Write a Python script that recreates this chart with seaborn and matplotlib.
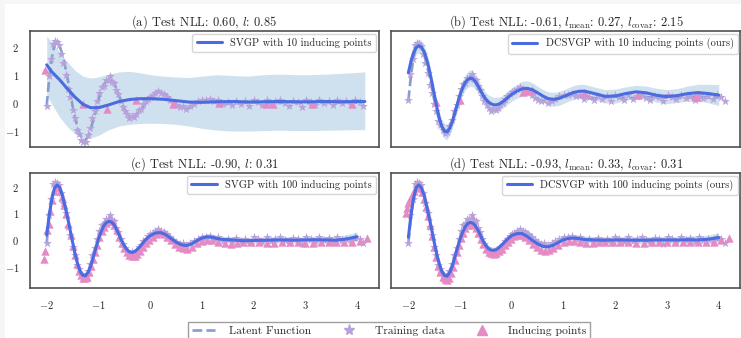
import numpy as np
import matplotlib
matplotlib.use("Agg")
import matplotlib.pyplot as plt
from matplotlib.lines import Line2D
from matplotlib.patches import Rectangle
import seaborn as sns

sns.set_style("white")
plt.rcParams["font.family"] = ["cmr10"]
plt.rcParams["mathtext.fontset"] = "cm"
plt.rcParams["axes.formatter.use_mathtext"] = True

# ---- data ----
latent_x = [-2.0, -1.95, -1.9, -1.85, -1.8, -1.75, -1.7, -1.65, -1.6, -1.55,
            -1.5, -1.45, -1.4, -1.35, -1.3, -1.25, -1.2, -1.15, -1.1, -1.05,
            -1.0, -0.95, -0.9, -0.85, -0.8, -0.75, -0.7, -0.65, -0.6, -0.55,
            -0.5, -0.45, -0.4, -0.35, -0.3, -0.25, -0.2, -0.15, -0.1, -0.05,
            0.0, 0.1, 0.2, 0.3, 0.4, 0.5, 0.6, 0.7, 0.8, 0.9,
            1.0, 1.1, 1.2, 1.3, 1.4, 1.6, 1.8, 2.0, 2.2, 2.4,
            2.6, 2.8, 3.0, 3.2, 3.4, 3.6, 3.8, 4.0]
latent_y = [-0.1, 0.9, 1.6, 2.05, 2.15, 2.0, 1.75, 1.35, 0.9, 0.4,
            -0.1, -0.55, -0.9, -1.15, -1.3, -1.32, -1.2, -0.95, -0.6, -0.25,
            0.1, 0.4, 0.62, 0.78, 0.85, 0.82, 0.7, 0.5, 0.25, 0.0,
            -0.2, -0.35, -0.45, -0.5, -0.48, -0.4, -0.3, -0.18, -0.05, 0.08,
            0.18, 0.33, 0.38, 0.3, 0.12, -0.05, -0.18, -0.22, -0.15, -0.02,
            0.08, 0.12, 0.1, 0.04, -0.02, -0.04, 0.02, 0.03, -0.01, -0.02,
            0.01, 0.02, 0.0, -0.02, 0.01, 0.02, 0.0, 0.01]

train_x = [-2.0, -1.96, -1.92, -1.88, -1.84, -1.8, -1.76, -1.72, -1.68, -1.63,
           -1.59, -1.55, -1.5, -1.46, -1.42, -1.38, -1.33, -1.29, -1.25, -1.21,
           -1.16, -1.12, -1.07, -1.03, -0.98, -0.94, -0.9, -0.86, -0.82, -0.78,
           -0.74, -0.7, -0.66, -0.62, -0.57, -0.53, -0.49, -0.45, -0.4, -0.36,
           -0.31, -0.27, -0.22, -0.18, -0.13, -0.09, -0.04, 0.0, 0.05, 0.1,
           0.16, 0.21, 0.26, 0.32, 0.38, 0.44, 0.5, 0.57, 0.63, 0.7,
           0.77, 0.84, 0.92, 1.0, 1.08, 1.16, 1.24, 1.32, 1.4, 1.5,
           1.58, 1.66, 1.75, 1.84, 1.92, 2.0, 2.08, 2.17, 2.25, 2.34,
           2.42, 2.51, 2.6, 2.68, 2.76, 2.85, 2.93, 3.02, 3.1, 3.18,
           3.27, 3.36, 3.45, 3.54, 3.62, 3.7, 3.79, 3.88, 3.96, 4.05,
           4.12]
train_y = [-0.1, 0.95, 1.55, 2.1, 2.2, 2.15, 2.05, 1.75, 1.4, 1.0,
           0.5, 0.2, -0.25, -0.55, -0.95, -1.1, -1.3, -1.4, -1.38, -1.15,
           -0.9, -0.55, -0.3, 0.05, 0.35, 0.55, 0.6, 0.8, 0.8, 0.95,
           0.75, 0.7, 0.45, 0.3, 0.05, -0.15, -0.3, -0.4, -0.52, -0.45,
           -0.5, -0.4, -0.25, -0.2, -0.05, 0.05, 0.15, 0.22, 0.28, 0.35,
           0.42, 0.35, 0.3, 0.22, 0.1, 0.0, -0.08, -0.15, -0.1, -0.2,
           -0.12, -0.05, 0.05, 0.12, 0.1, 0.15, 0.05, 0.1, -0.05, 0.02,
           -0.08, 0.08, -0.05, 0.05, -0.12, 0.12, 0.02, -0.08, 0.1, -0.05,
           0.05, 0.12, -0.02, -0.1, 0.08, 0.02, -0.15, 0.12, 0.03, -0.06,
           0.1, -0.02, 0.08, -0.08, 0.12, 0.0, 0.05, -0.05, 0.1, 0.02,
           -0.12]

# (a) SVGP, 10 inducing points
grid_a = [-2.0, -1.9, -1.75, -1.6, -1.45, -1.3, -1.15, -1.0, -0.8, -0.6,
          -0.4, -0.2, 0.0, 0.25, 0.5, 0.75, 1.0, 1.3, 1.6, 1.9,
          2.2, 2.5, 2.8, 3.1, 3.4, 3.7, 4.0, 4.15]
mean_a = [1.35, 1.1, 0.82, 0.5, 0.2, -0.05, -0.17, -0.17, -0.07, 0.05,
          0.12, 0.15, 0.15, 0.13, 0.08, 0.03, 0.02, 0.04, 0.05, 0.03,
          0.04, 0.05, 0.04, 0.04, 0.05, 0.04, 0.05, 0.05]
upper_a = [2.37, 2.15, 1.8, 1.45, 1.15, 0.95, 0.88, 0.92, 1.02, 1.1,
           1.12, 1.07, 1.0, 0.95, 0.92, 0.9, 0.95, 1.0, 0.97, 0.95,
           1.0, 1.02, 1.0, 1.0, 1.02, 1.05, 1.08, 1.1]
lower_a = [0.3, -0.05, -0.5, -0.85, -1.1, -1.25, -1.25, -1.15, -0.95, -0.82,
           -0.76, -0.73, -0.72, -0.73, -0.76, -0.82, -0.9, -0.97, -1.0, -1.0,
           -0.98, -0.97, -0.98, -0.98, -0.97, -0.96, -0.95, -0.95]
ind_a_x = [-2.04, -1.3, -0.83, -0.28, 0.45, 1.33, 2.24, 2.38, 3.12, 3.9]
ind_a_y = [1.16, -0.05, -0.2, 0.1, -0.05, 0.0, -0.05, -0.05, -0.05, -0.03]

# (b) DCSVGP, 10 inducing points (on latent_x grid)
mean_b = [1.0, 1.45, 1.8, 2.0, 2.07, 2.02, 1.85, 1.55, 1.15, 0.65,
          0.12, -0.4, -0.85, -1.18, -1.35, -1.37, -1.22, -0.95, -0.6, -0.22,
          0.12, 0.4, 0.6, 0.73, 0.78, 0.74, 0.62, 0.45, 0.26, 0.08,
          -0.07, -0.18, -0.25, -0.29, -0.29, -0.26, -0.2, -0.12, -0.04, 0.05,
          0.13, 0.26, 0.35, 0.37, 0.31, 0.19, 0.06, -0.04, -0.07, -0.04,
          0.04, 0.13, 0.21, 0.25, 0.26, 0.16, 0.05, 0.06, 0.16, 0.23,
          0.19, 0.09, 0.04, 0.08, 0.16, 0.2, 0.16, 0.1]
std_b = [0.38, 0.33, 0.3, 0.28, 0.27, 0.27, 0.27, 0.27, 0.27, 0.27,
         0.27, 0.27, 0.27, 0.28, 0.3, 0.3, 0.28, 0.27, 0.27, 0.27,
         0.27, 0.28, 0.3, 0.32, 0.33, 0.32, 0.3, 0.28, 0.27, 0.27,
         0.27, 0.28, 0.3, 0.3, 0.3, 0.28, 0.27, 0.26, 0.26, 0.26,
         0.27, 0.28, 0.3, 0.3, 0.28, 0.26, 0.26, 0.27, 0.28, 0.28,
         0.27, 0.27, 0.28, 0.28, 0.27, 0.26, 0.27, 0.28, 0.27, 0.26,
         0.27, 0.28, 0.28, 0.28, 0.3, 0.33, 0.37, 0.42]
ind_b_x = [-1.46, -1.01, 0.22, 0.3, 0.38, 1.39, 1.42, 2.44, 3.54, 3.57]
ind_b_y = [-0.16, -0.1, 0.24, 0.28, 0.31, 0.18, 0.18, 0.11, 0.04, 0.04]

# (c) SVGP, (d) DCSVGP, 100 inducing points
mean_c = [0.18, 0.95, 1.55, 1.95, 2.07, 1.98, 1.7, 1.3, 0.88, 0.4,
          -0.08, -0.55, -0.92, -1.2, -1.33, -1.35, -1.22, -0.98, -0.65, -0.3,
          0.03, 0.3, 0.52, 0.65, 0.7, 0.68, 0.58, 0.4, 0.18, -0.04,
          -0.22, -0.36, -0.45, -0.47, -0.44, -0.36, -0.26, -0.14, -0.02, 0.08,
          0.16, 0.26, 0.28, 0.2, 0.06, -0.08, -0.18, -0.21, -0.15, -0.03,
          0.07, 0.12, 0.1, 0.05, 0.02, 0.0, -0.03, -0.02, -0.01, 0.0,
          0.0, -0.01, 0.0, 0.01, 0.0, -0.01, 0.04, 0.12]
std_c = [0.15, 0.12, 0.1, 0.1, 0.1, 0.1, 0.1, 0.1, 0.1, 0.1,
         0.1, 0.1, 0.1, 0.1, 0.1, 0.1, 0.1, 0.1, 0.1, 0.1,
         0.1, 0.1, 0.1, 0.1, 0.1, 0.1, 0.1, 0.1, 0.1, 0.1,
         0.1, 0.1, 0.1, 0.1, 0.1, 0.1, 0.1, 0.1, 0.1, 0.1,
         0.11, 0.12, 0.12, 0.11, 0.11, 0.12, 0.12, 0.12, 0.12, 0.12,
         0.12, 0.12, 0.12, 0.12, 0.12, 0.12, 0.12, 0.12, 0.12, 0.12,
         0.12, 0.12, 0.12, 0.13, 0.13, 0.14, 0.16, 0.18]
mean_d = [0.1, 0.95, 1.58, 1.97, 2.07, 1.97, 1.7, 1.3, 0.85, 0.38,
          -0.1, -0.56, -0.93, -1.2, -1.34, -1.36, -1.22, -0.97, -0.63, -0.28,
          0.04, 0.3, 0.5, 0.62, 0.66, 0.63, 0.52, 0.35, 0.14, -0.06,
          -0.22, -0.33, -0.38, -0.39, -0.36, -0.29, -0.2, -0.1, 0.0, 0.09,
          0.17, 0.24, 0.24, 0.13, -0.02, -0.15, -0.24, -0.26, -0.2, -0.09,
          0.01, 0.06, 0.07, 0.05, 0.02, 0.0, -0.01, 0.0, 0.0, -0.01,
          -0.01, 0.0, 0.0, 0.0, 0.01, 0.0, 0.03, 0.09]
std_d = [0.16, 0.13, 0.12, 0.12, 0.12, 0.12, 0.12, 0.12, 0.12, 0.12,
         0.12, 0.12, 0.12, 0.12, 0.12, 0.12, 0.12, 0.12, 0.12, 0.12,
         0.12, 0.12, 0.12, 0.12, 0.12, 0.12, 0.12, 0.12, 0.12, 0.12,
         0.12, 0.12, 0.12, 0.12, 0.12, 0.12, 0.12, 0.12, 0.12, 0.12,
         0.12, 0.13, 0.13, 0.13, 0.13, 0.13, 0.13, 0.13, 0.13, 0.13,
         0.13, 0.13, 0.13, 0.13, 0.13, 0.13, 0.13, 0.13, 0.13, 0.13,
         0.13, 0.13, 0.13, 0.13, 0.14, 0.15, 0.16, 0.18]
ind_100_x = [-2.05, -2.03, -2.0, -1.96, -1.93, -1.9, -1.86, -1.82, -1.78, -1.74,
             -1.7, -1.66, -1.62, -1.58, -1.54, -1.5, -1.46, -1.42, -1.38, -1.34,
             -1.3, -1.26, -1.22, -1.18, -1.14, -1.1, -1.06, -1.02, -0.98, -0.94,
             -0.9, -0.85, -0.8, -0.75, -0.7, -0.65, -0.6, -0.55, -0.5, -0.45,
             -0.4, -0.35, -0.3, -0.25, -0.2, -0.14, -0.08, -0.02, 0.05, 0.12,
             0.19, 0.26, 0.33, 0.4, 0.48, 0.56, 0.64, 0.72, 0.8, 0.9,
             1.0, 1.1, 1.2, 1.32, 1.44, 1.56, 1.68, 1.8, 1.95, 2.1,
             2.25, 2.4, 2.55, 2.7, 2.85, 3.0, 3.15, 3.3, 3.45, 3.6,
             3.75, 3.9, 4.05, 4.2]
ind_c_y = [-0.72, -0.42, 0.38, 0.6, 1.1, 1.5, 1.85, 2.0, 2.0, 1.85,
           1.62, 1.32, 0.98, 0.6, 0.2, -0.22, -0.58, -0.92, -1.18, -1.33,
           -1.42, -1.45, -1.38, -1.2, -0.98, -0.72, -0.45, -0.18, 0.1, 0.33,
           0.5, 0.65, 0.72, 0.7, 0.58, 0.38, 0.12, -0.12, -0.32, -0.47,
           -0.57, -0.62, -0.6, -0.52, -0.42, -0.27, -0.12, 0.0, 0.13, 0.22,
           0.26, 0.22, 0.13, 0.0, -0.14, -0.25, -0.32, -0.33, -0.27, -0.13,
           -0.03, 0.0, -0.02, -0.08, -0.13, -0.14, -0.12, -0.08, -0.07, -0.09,
           -0.1, -0.11, -0.09, -0.07, -0.08, -0.1, -0.11, -0.09, -0.08, -0.07,
           -0.08, -0.07, -0.03, 0.08]
ind_d_y = [1.0, 1.2, 1.4, 1.55, 1.7, 1.85, 1.98, 2.02, 1.95, 1.8,
           1.55, 1.25, 0.92, 0.55, 0.15, -0.27, -0.65, -0.98, -1.22, -1.38,
           -1.47, -1.5, -1.42, -1.25, -1.02, -0.75, -0.47, -0.2, 0.07, 0.28,
           0.45, 0.58, 0.62, 0.58, 0.46, 0.28, 0.05, -0.16, -0.33, -0.45,
           -0.5, -0.52, -0.5, -0.43, -0.33, -0.2, -0.07, 0.04, 0.14, 0.18,
           0.17, 0.1, -0.01, -0.14, -0.27, -0.36, -0.4, -0.38, -0.3, -0.18,
           -0.07, -0.03, -0.04, -0.07, -0.1, -0.1, -0.09, -0.08, -0.08, -0.09,
           -0.09, -0.1, -0.1, -0.09, -0.08, -0.08, -0.09, -0.09, -0.08, -0.08,
           -0.07, -0.06, -0.02, 0.08]

titles = [r"(a) Test NLL: 0.60, $l$: 0.85",
          r"(b) Test NLL: -0.61, $l_{\mathrm{mean}}$: 0.27, $l_{\mathrm{covar}}$: 2.15",
          r"(c) Test NLL: -0.90, $l$: 0.31",
          r"(d) Test NLL: -0.93, $l_{\mathrm{mean}}$: 0.33, $l_{\mathrm{covar}}$: 0.31"]
model_labels = ["SVGP with 10 inducing points",
                "DCSVGP with 10 inducing points (ours)",
                "SVGP with 100 inducing points",
                "DCSVGP with 100 inducing points (ours)"]
ylims = [(-1.55, 2.54), (-1.96, 2.65), (-1.82, 2.52), (-1.82, 2.52)]

C_LATENT = "#8a9ccf"
C_STAR = "#b8a2dc"
C_IND = "#e48ac4"
C_MEAN = "#4b6be0"
C_BAND = "#cfe1ee"

# ---- figure ----
fig, axes = plt.subplots(2, 2, figsize=(7.41, 3.38), dpi=100)
plt.subplots_adjust(left=0.040, right=0.9993, bottom=0.147, top=0.9074,
                    wspace=0.036, hspace=0.229)
fig.patch.set_facecolor("#f6f6f6")
fig.add_artist(Rectangle((5 / 741, 0), 1, 1 - 4 / 338, transform=fig.transFigure,
                         facecolor="white", edgecolor="none", zorder=-10))

panels = [
    (grid_a, mean_a, lower_a, upper_a, ind_a_x, ind_a_y),
    (latent_x, mean_b, np.array(mean_b) - np.array(std_b), np.array(mean_b) + np.array(std_b), ind_b_x, ind_b_y),
    (latent_x, mean_c, np.array(mean_c) - np.array(std_c), np.array(mean_c) + np.array(std_c), ind_100_x, ind_c_y),
    (latent_x, mean_d, np.array(mean_d) - np.array(std_d), np.array(mean_d) + np.array(std_d), ind_100_x, ind_d_y),
]

for i, ax in enumerate(axes.flat):
    gx, m, lo, hi, ix, iy = panels[i]
    ax.fill_between(gx, lo, hi, color=C_BAND, lw=0, zorder=1)
    sns.lineplot(x=latent_x, y=latent_y, ax=ax, color=C_LATENT, lw=1.9,
                 linestyle="--", zorder=2)
    sns.scatterplot(x=train_x, y=train_y, ax=ax, marker="*", s=45,
                    color=C_STAR, linewidth=0, zorder=3)
    sns.scatterplot(x=ix, y=iy, ax=ax, marker="^", s=36,
                    color=C_IND, linewidth=0, zorder=4)
    sns.lineplot(x=gx, y=m, ax=ax, color=C_MEAN, lw=2.2, zorder=5,
                 label=model_labels[i])
    ax.legend(loc="upper right", fontsize=7.6, handlelength=2.4,
              borderaxespad=0.25, framealpha=1, edgecolor="#d6d6d6")
    ax.set_title(titles[i], fontsize=9, pad=4)
    ax.set_xlim(-2.33, 4.42)
    ax.set_ylim(*ylims[i])
    ax.set_xticks([-2, -1, 0, 1, 2, 3, 4])
    ax.set_yticks([-1, 0, 1, 2])
    ax.tick_params(labelsize=7.6, pad=4)
    if i < 2:
        ax.tick_params(labelbottom=False)
    if i % 2 == 1:
        ax.tick_params(labelleft=False)
    ax.set_xlabel("")
    ax.set_ylabel("")
    for sp in ax.spines.values():
        sp.set_color("#505050")
        sp.set_linewidth(1.2)

handles = [Line2D([], [], color=C_LATENT, lw=1.9, linestyle="--"),
           Line2D([], [], color=C_STAR, marker="*", linestyle="none", markersize=8),
           Line2D([], [], color=C_IND, marker="^", linestyle="none", markersize=7)]
fig.legend(handles, ["Latent Function", "Training data", "Inducing points"],
           loc="upper center", bbox_to_anchor=(389 / 741, 1 - 316 / 338),
           ncol=3, fontsize=8.3, handlelength=2.0, handletextpad=1.2,
           columnspacing=2.3, fancybox=False, framealpha=1, edgecolor="#a0a0a0")

fig.savefig("out.png", dpi=100, facecolor=fig.get_facecolor())
